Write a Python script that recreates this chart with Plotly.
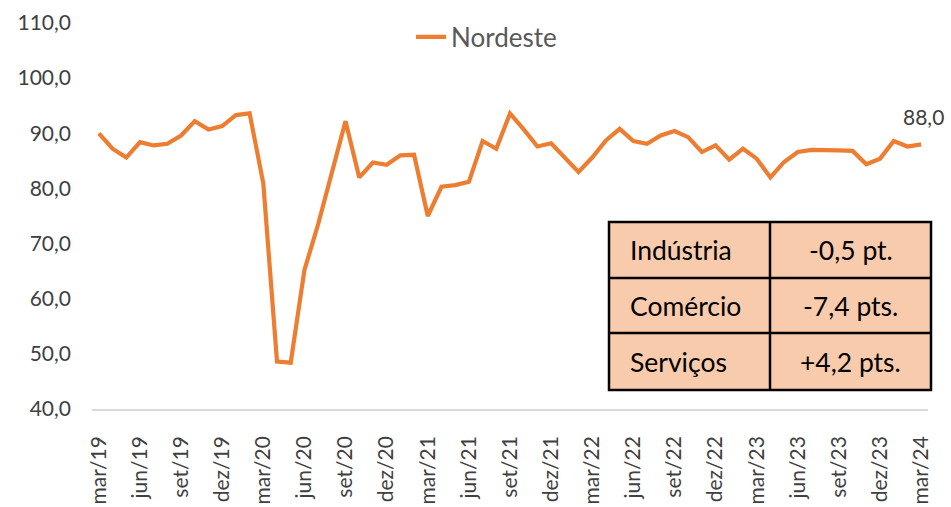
import plotly.graph_objects as go

# Monthly index, mar/19 .. mar/24
MESES = ["jan", "fev", "mar", "abr", "mai", "jun", "jul", "ago", "set", "out", "nov", "dez"]
months = []
for i in range(61):
    m = (2 + i) % 12
    y = 19 + (2 + i) // 12
    months.append(f"{MESES[m]}/{y}")

nordeste = [
    90.0, 87.2, 85.6, 88.4, 87.8, 88.1, 89.6, 92.2, 90.7, 91.3, 93.3, 93.6,
    80.9, 48.6, 48.4, 65.2, 73.5, 82.5, 92.2, 82.0, 84.7, 84.3, 86.0, 86.1,
    75.0, 80.3, 80.6, 81.2, 88.6, 87.2, 93.6, 90.7, 87.6, 88.2, 85.6, 83.0,
    85.6, 88.7, 90.8, 88.6, 88.1, 89.6, 90.4, 89.3, 86.6, 87.8, 85.2, 87.2,
    85.4, 82.0, 84.8, 86.6, 87.0, 87.0, 86.9, 86.8, 84.4, 85.4, 88.6, 87.6,
    88.0,
]

tick_labels = months[::3]

table_sectors = ["Indústria", "Comércio", "Serviços"]
table_changes = ["-0,5 pt.", "-7,4 pts.", "+4,2 pts."]

FONT = "Lato, 'Noto Sans', sans-serif"
ORANGE = "#ED7D31"
GREY_TXT = "#404040"

fig = go.Figure()

fig.add_trace(go.Scatter(
    x=months,
    y=nordeste,
    mode="lines",
    line=dict(color=ORANGE, width=4.2),
    name="Nordeste",
    cliponaxis=False,
))

# last value label
fig.add_annotation(
    x=months[-1], y=nordeste[-1],
    text=f"{nordeste[-1]:.1f}".replace(".", ","),
    showarrow=False, yshift=28, xshift=2,
    font=dict(family=FONT, size=21, color=GREY_TXT),
)

# summary table drawn in paper coordinates
W, H = 951, 507
L, R, T, B = 92, 23, 23, 98
pw, ph = W - L - R, H - T - B


def px(x):
    return (x - L) / pw


def py(y):
    return (H - B - y) / ph


tab_left, tab_mid, tab_right = 609, 770, 931
rows = [222, 278, 333, 390]

fig.add_shape(type="rect", xref="paper", yref="paper",
              x0=px(tab_left), x1=px(tab_right), y0=py(rows[-1]), y1=py(rows[0]),
              fillcolor="#F8CBAD", line=dict(color="black", width=2.5), layer="above")
fig.add_shape(type="line", xref="paper", yref="paper",
              x0=px(tab_mid), x1=px(tab_mid), y0=py(rows[-1]), y1=py(rows[0]),
              line=dict(color="black", width=2.5))
for r in rows[1:-1]:
    fig.add_shape(type="line", xref="paper", yref="paper",
                  x0=px(tab_left), x1=px(tab_right), y0=py(r), y1=py(r),
                  line=dict(color="black", width=2.5))

for i, (sec, chg) in enumerate(zip(table_sectors, table_changes)):
    yc = py((rows[i] + rows[i + 1]) / 2)
    fig.add_annotation(x=px(tab_left + 19), y=yc, xref="paper", yref="paper",
                       text=sec, showarrow=False, xanchor="left", yanchor="middle",
                       font=dict(family=FONT, size=26.5, color="black"))
    fig.add_annotation(x=px((tab_mid + tab_right) / 2), y=yc, xref="paper", yref="paper",
                       text=chg, showarrow=False, xanchor="center", yanchor="middle",
                       font=dict(family=FONT, size=26.5, color="black"))

fig.update_xaxes(
    type="category",
    range=[-0.5, 60.5],
    tickmode="array",
    tickvals=tick_labels,
    ticktext=tick_labels,
    tickangle=-90,
    ticks="",
    ticklabelstandoff=17,
    showgrid=False,
    showline=True,
    linecolor="#D9D9D9",
    linewidth=1.5,
    zeroline=False,
    automargin=False,
    tickfont=dict(family=FONT, size=21, color=GREY_TXT),
)
fig.update_yaxes(
    range=[40, 110],
    dtick=10,
    tickformat=".1f",
    showgrid=False,
    zeroline=False,
    showline=False,
    ticks="",
    ticklabelstandoff=20,
    automargin=False,
    tickfont=dict(family=FONT, size=21, color=GREY_TXT),
)

fig.update_layout(
    width=W,
    height=H,
    margin=dict(l=L, r=R, t=T, b=B),
    paper_bgcolor="white",
    plot_bgcolor="white",
    separators=",.",
    showlegend=True,
    legend=dict(
        orientation="h",
        x=px(411), xanchor="left",
        y=py(37), yanchor="middle",
        font=dict(family=FONT, size=26, color="#595959"),
        bgcolor="rgba(0,0,0,0)",
    ),
)

# page body margin would offset the figure by 8px
fig.write_html(
    "out.html",
    config={"displayModeBar": False},
    post_script="document.body.style.margin='0px';",
)
